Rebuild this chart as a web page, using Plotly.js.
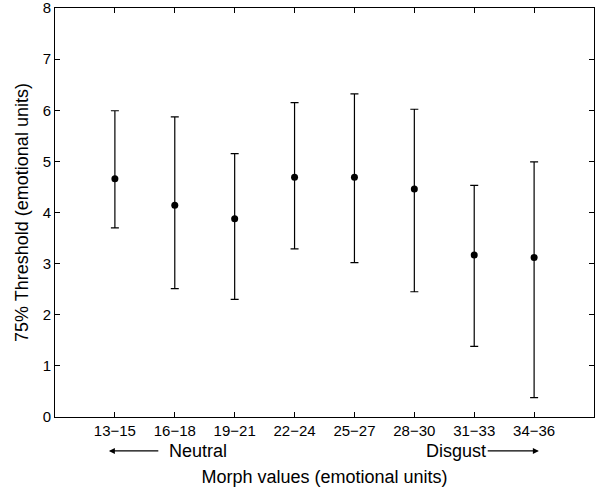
<!DOCTYPE html>
<html><head><meta charset="utf-8">
<script src="https://cdn.plot.ly/plotly-3.0.1.min.js"></script>
<style>html,body{margin:0;padding:0;background:#fff}#chart{width:600px;height:487px}</style>
</head><body><div id="chart"></div>
<script>
const categories = ["13\u221215","16\u221218","19\u221221","22\u221224","25\u221227","28\u221230","31\u221233","34\u221236"];
const meanValues = [4.66, 4.14, 3.88, 4.69, 4.69, 4.46, 3.17, 3.12];
const upperValues = [5.99, 5.87, 5.15, 6.15, 6.32, 6.02, 4.53, 4.99];
const lowerValues = [3.70, 2.51, 2.30, 3.29, 3.02, 2.45, 1.38, 0.38];
const yTicks = [0,1,2,3,4,5,6,7,8];

const xIdx = categories.map((c,i)=>i);
const font = {family:'"Liberation Sans", Arial, Helvetica, sans-serif', color:'#000'};

const trace = {
  x: xIdx, y: meanValues, type:'scatter', mode:'markers',
  marker:{color:'#000', size:7},
  error_y:{type:'data', symmetric:false,
    array: upperValues.map((u,i)=>u-meanValues[i]),
    arrayminus: meanValues.map((m,i)=>m-lowerValues[i]),
    color:'#000', thickness:1.2, width:4},
  showlegend:false, hoverinfo:'skip'
};

const layout = {
  width:600, height:487,
  margin:{l:55, r:6, t:8, b:70},
  paper_bgcolor:'#fff', plot_bgcolor:'#fff',
  font: Object.assign({size:15}, font),
  xaxis:{range:[-1,8], tickvals:xIdx, ticktext:categories, ticks:'inside', ticklen:5,
    tickwidth:1, tickcolor:'#000', showline:true, linecolor:'#000', linewidth:1, mirror:'ticks',
    showgrid:false, zeroline:false, tickfont:Object.assign({size:15},font),
    title:{text:'Morph values (emotional units)', font:Object.assign({size:18},font), standoff:34}},
  yaxis:{range:[0,8.0001], tickvals:yTicks, ticktext:yTicks.map(String), ticks:'inside', ticklen:5, tickwidth:1, tickcolor:'#000',
    showline:true, linecolor:'#000', linewidth:1, mirror:'ticks', showgrid:false, zeroline:false,
    tickfont:Object.assign({size:15},font), ticklabeloverflow:'allow',
    title:{text:'75% Threshold (emotional units)', font:Object.assign({size:18},font), standoff:9}},
  annotations:[
    {xref:'x', yref:'paper', x:-0.1, y:-0.083, axref:'x', ax:0.75, ayref:'pixel', ay:0,
     text:'', showarrow:true, arrowhead:2, arrowsize:1, arrowwidth:1.2, arrowcolor:'#000'},
    {xref:'x', yref:'paper', x:1.38, y:-0.083, text:'Neutral', showarrow:false,
     font:Object.assign({size:18},font), yanchor:'middle'},
    {xref:'x', yref:'paper', x:7.08, y:-0.083, axref:'x', ax:6.2, ayref:'pixel', ay:0,
     text:'', showarrow:true, arrowhead:2, arrowsize:1, arrowwidth:1.2, arrowcolor:'#000'},
    {xref:'x', yref:'paper', x:5.7, y:-0.083, text:'Disgust', showarrow:false,
     font:Object.assign({size:18},font), yanchor:'middle'}
  ]
};

Plotly.newPlot('chart', [trace], layout, {displayModeBar:false, staticPlot:true});
</script></body></html>
